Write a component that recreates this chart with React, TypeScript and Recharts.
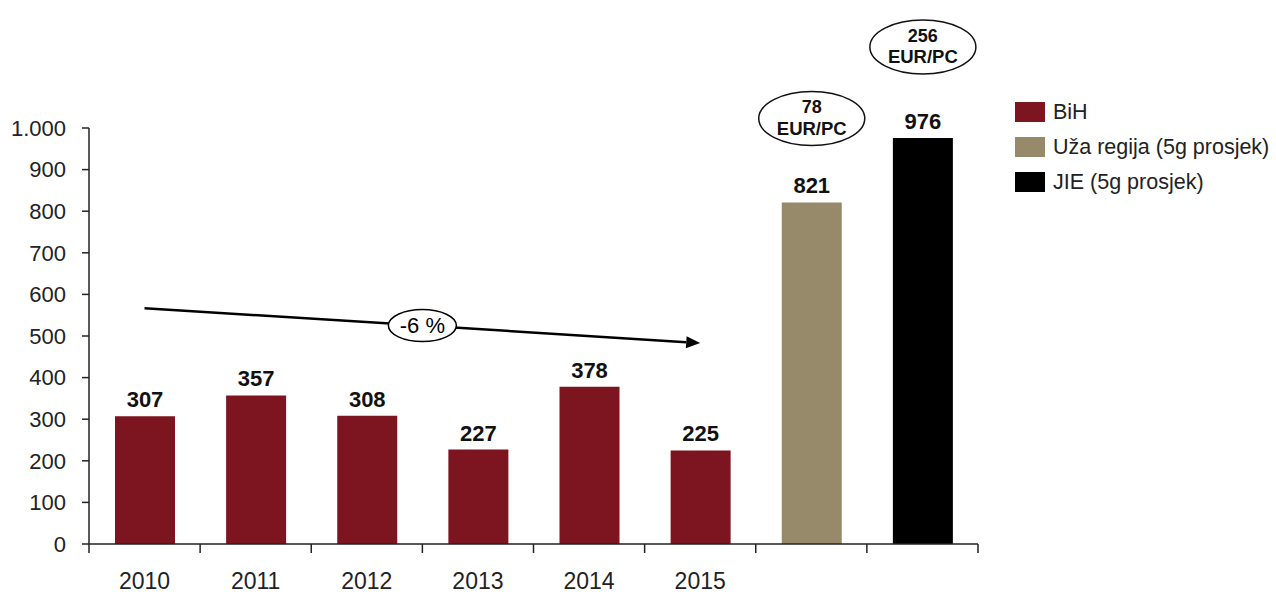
import { BarChart, Bar, XAxis, YAxis, LabelList, ReferenceLine, Cell } from "recharts";

const categories = ["2010", "2011", "2012", "2013", "2014", "2015", "uza", "jie"];
const xLabels = ["2010", "2011", "2012", "2013", "2014", "2015", "", ""];
const bihValues = [307, 357, 308, 227, 378, 225];
const uzaValue = 821;
const jieValue = 976;
const yTicks = [0, 100, 200, 300, 400, 500, 600, 700, 800, 900, 1000];

const legendNames = ["BiH", "Uža regija (5g prosjek)", "JIE (5g prosjek)"];
const legendColors = ["#7d1520", "#968a6b", "#000000"];
// which legend group each category belongs to
const groupOf = [0, 0, 0, 0, 0, 0, 1, 2];

const notes: Record<number, string[]> = { 6: ["78", "EUR/PC"], 7: ["256", "EUR/PC"] };
const noteLift: Record<number, number> = { 6: 84, 7: 91 };

const trendFrom = { x: "2010", y: 567 };
const trendTo = { x: "2015", y: 483 };
const trendLabel = "-6 %";

const values = [...bihValues, uzaValue, jieValue];
const data = categories.map((c, i) => ({ cat: c, value: values[i] }));

const FONT = "'Liberation Sans', Arial, sans-serif";
const AXIS = "#222";

const fmt = (v: number) => String(v).replace(/\B(?=(\d{3})+(?!\d))/g, ".");

const XTick = (props: any) => {
  const { x, y, payload, index } = props;
  const half = payload?.offset || 55.5;
  return (
    <g>
      <line x1={x - half} x2={x - half} y1={y} y2={y + 9} stroke={AXIS} strokeWidth={1.5} />
      {index === categories.length - 1 && (
        <line x1={x + half} x2={x + half} y1={y} y2={y + 9} stroke={AXIS} strokeWidth={1.5} />
      )}
      <text x={x} y={y + 45} textAnchor="middle" fontSize={23} fill={AXIS} fontFamily={FONT}>
        {xLabels[index]}
      </text>
    </g>
  );
};

const ValueLabel = (props: any) => {
  const { x, y, width, index, value } = props;
  if (value == null) return null;
  const cx = x + width / 2;
  const note = notes[index];
  return (
    <g>
      <text x={cx} y={y - 9} textAnchor="middle" fontSize={22} fontWeight="bold" fill="#111" fontFamily={FONT}>
        {value}
      </text>
      {note && (
        <g>
          <ellipse cx={cx} cy={y - noteLift[index]} rx={53} ry={27} fill="#fff" stroke="#111" strokeWidth={1.5} />
          <text x={cx} y={y - noteLift[index] - 11} textAnchor="middle" dominantBaseline="central" fontSize={18} fontWeight="bold" fill="#111" fontFamily={FONT}>
            {note[0]}
          </text>
          <text x={cx} y={y - noteLift[index] + 10} textAnchor="middle" dominantBaseline="central" fontSize={18.5} fontWeight="bold" fill="#111" fontFamily={FONT}>
            {note[1]}
          </text>
        </g>
      )}
    </g>
  );
};

const TrendArrow = (p: any) => {
  const { x1, y1, x2, y2 } = p;
  const ang = Math.atan2(y2 - y1, x2 - x1);
  const len = 14;
  const w = 6;
  const bx = x2 - len * Math.cos(ang);
  const by = y2 - len * Math.sin(ang);
  const px = -Math.sin(ang) * w;
  const py = Math.cos(ang) * w;
  const mx = (x1 + x2) / 2;
  const my = (y1 + y2) / 2;
  return (
    <g>
      <line x1={x1} y1={y1} x2={bx} y2={by} stroke="#000" strokeWidth={2.5} />
      <polygon points={`${x2},${y2} ${bx + px},${by + py} ${bx - px},${by - py}`} fill="#000" />
      <ellipse cx={mx} cy={my} rx={34} ry={16} fill="#fff" stroke="#000" strokeWidth={1.5} />
      <text x={mx} y={my} textAnchor="middle" dominantBaseline="central" fontSize={22} fill="#000"
        fontFamily="'Liberation Sans Narrow', 'Liberation Sans', Arial, sans-serif">
        {trendLabel}
      </text>
    </g>
  );
};

export default function App() {
  return (
    <div style={{ position: "absolute", left: 0, top: 0, width: 1276, height: 594, background: "#fff", fontFamily: FONT }}>
      <BarChart width={1276} height={594} data={data} margin={{ top: 128, right: 298, bottom: 0, left: 0 }}>
        <XAxis
          dataKey="cat"
          height={50}
          interval={0}
          tickLine={false}
          tickSize={0}
          tickMargin={0}
          axisLine={{ stroke: AXIS, strokeWidth: 1.5 }}
          tick={<XTick />}
        />
        <YAxis
          width={89}
          domain={[0, 1000]}
          ticks={yTicks}
          interval={0}
          tickFormatter={fmt}
          tickSize={7}
          tickMargin={16}
          axisLine={{ stroke: AXIS, strokeWidth: 1.5 }}
          tickLine={{ stroke: AXIS, strokeWidth: 1.5 }}
          tick={{ fontSize: 22, fill: AXIS, fontFamily: FONT }}
        />
        <ReferenceLine segment={[trendFrom, trendTo]} shape={<TrendArrow />} />
        <Bar dataKey="value" barSize={60} isAnimationActive={false}>
          {data.map((d, i) => (
            <Cell key={d.cat} fill={legendColors[groupOf[i]]} />
          ))}
          <LabelList dataKey="value" content={<ValueLabel />} />
        </Bar>
      </BarChart>
      <div style={{ position: "absolute", left: 1015, top: 102 }}>
        {legendNames.map((n, i) => (
          <div key={n} style={{ display: "flex", alignItems: "center", height: 20, marginBottom: 15 }}>
            <div style={{ width: 30, height: 20, background: legendColors[i], marginRight: 8 }} />
            <span style={{ fontSize: 21.5, color: "#222", whiteSpace: "nowrap" }}>{n}</span>
          </div>
        ))}
      </div>
    </div>
  );
}
